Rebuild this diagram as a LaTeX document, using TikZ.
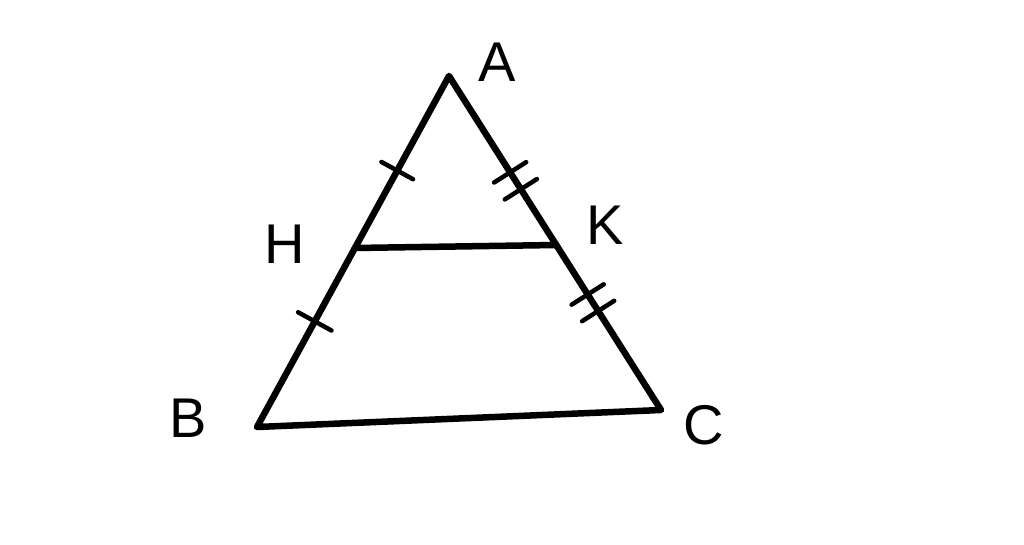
\documentclass[tikz,border=0pt]{standalone}
\usepackage{fontspec}
\setmainfont{Liberation Sans}
\usetikzlibrary{calc}
\tikzset{
  side/.style = {line width=6.5pt},
  tick/.style = {line width=4.5pt},
  lbl/.style = {font=\fontsize{56}{58}\selectfont}
}
\begin{document}
\begin{tikzpicture}[x = 1pt, y = 1pt, line join=round, line cap=round]
\useasboundingbox (0,0) rectangle (1024,544);
\coordinate (A) at (449,468);
\coordinate (B) at (257,117);
\coordinate (C) at (661,134);
\coordinate (H) at ($(A)!.49!(B)$);
\coordinate (K) at ($(A)!.506!(C)$);
\node[lbl] (la) at (497,482) {A};
\node[lbl] (lh) at (285,300) {H};
\node[lbl] (lk) at (605,319) {K};
\node[lbl] (lb) at (188,126) {B};
\node[lbl] (lc) at (704,119) {C};
\draw[side] (A) -- (B) -- (C) -- cycle;
\draw[side] (H) -- (K);
% single ticks on AB
\coordinate (t1) at ($(A)!.55!(H)$);
\coordinate (t2) at ($(H)!.41!(B)$);
\draw[tick] ($(t1)!18pt!90:(A)$) -- ($(t1)!18pt!-90:(A)$);
\draw[tick] ($(t2)!19pt!90:(H)$) -- ($(t2)!19pt!-90:(H)$);
% double ticks on AC
\coordinate (t3) at ($(A)!.57!(K)$);
\coordinate (t4) at ($(A)!.67!(K)$);
\coordinate (t5) at ($(K)!.30!(C)$);
\coordinate (t6) at ($(K)!.40!(C)$);
\foreach \t in {t3,t4,t5,t6}
  \draw[tick] ($(\t)!19pt!90:(A)$) -- ($(\t)!19pt!-90:(A)$);
\end{tikzpicture}
\end{document}
